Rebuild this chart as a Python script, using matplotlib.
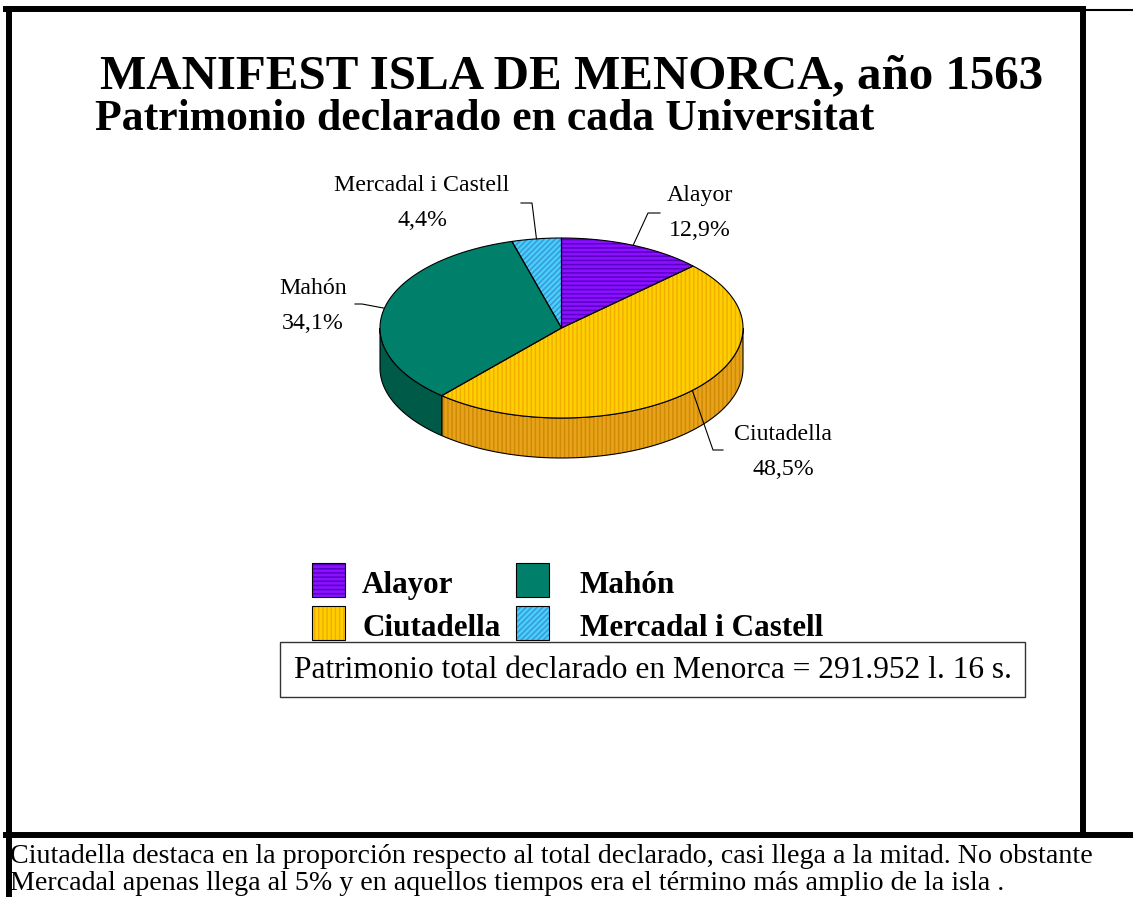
import numpy as np
import matplotlib.pyplot as plt
from matplotlib.patches import Polygon, Rectangle

plt.rcParams['font.family'] = ['Liberation Serif', 'DejaVu Serif']
plt.rcParams['hatch.linewidth'] = 1.1

# datos
titulo = 'MANIFEST ISLA DE MENORCA, año 1563'
subtitulo = 'Patrimonio declarado en cada Universitat'
universitats = ['Alayor', 'Ciutadella', 'Mahón', 'Mercadal i Castell']
porcentajes = [12.9, 48.5, 34.1, 4.4]
etiquetas_pct = ['12,9%', '48,5%', '34,1%', '4,4%']
total_texto = 'Patrimonio total declarado en Menorca = 291.952 l. 16 s.'
comentario = [
    'Ciutadella destaca en la proporción respecto al total declarado, casi llega a la mitad. No obstante',
    'Mercadal apenas llega al 5% y en aquellos tiempos era el término más amplio de la isla .',
]

# estilo de cada porción
colores_cara = ['#8A10FF', '#FFD000', '#00806A', '#48D0FA']
colores_trama = ['#5A00C4', '#F2AE00', '#007A62', '#3A98D8']
colores_lado = ['#6A00C0', '#E8A418', '#005A48', '#2A98C0']
tramas_lado = ['----', '||||', None, '//////']
tramas = ['----', '||||', None, '//////']

# geometria del pastel (en pixeles de la imagen)
cx, cy, rx, ry, grosor = 561.5, 328, 181.5, 90, 40

fig = plt.figure(figsize=(11.33, 8.97), dpi=100)
ax = fig.add_axes([0, 0, 1, 1])
ax.set_xlim(0, 1133)
ax.set_ylim(897, 0)
ax.axis('off')


def elipse(t, dy=0):
    t = np.radians(t)
    return np.column_stack([cx + rx * np.cos(t), cy - ry * np.sin(t) + dy])


def relleno(pts, cara, trama, color_trama, z):
    ax.add_patch(Polygon(pts, closed=True, facecolor=cara, edgecolor='none', zorder=z))
    if trama:
        ax.add_patch(Polygon(pts, closed=True, facecolor='none', edgecolor=color_trama,
                             hatch=trama, linewidth=0, zorder=z + 0.1))
    ax.add_patch(Polygon(pts, closed=True, facecolor='none', edgecolor='black',
                         linewidth=0.8, zorder=z + 0.2))


# angulos: empieza a las 12 y gira en sentido horario
fracs = np.array(porcentajes) / sum(porcentajes)
bordes = 90 - 360 * np.concatenate([[0], np.cumsum(fracs)])

# laterales (solo la mitad delantera se ve)
for i in range(len(universitats)):
    t1, t2 = bordes[i], bordes[i + 1]
    for k in (0, -360):
        a = max(t2, -180 + k)
        b = min(t1, 0 + k)
        if a < b:
            ts = np.linspace(b, a, 80)
            arriba = elipse(ts)
            abajo = elipse(ts[::-1], grosor)
            relleno(np.vstack([arriba, abajo]), colores_lado[i], tramas_lado[i],
                    colores_trama[i] if i != 1 else '#D08A08', 2)

# caras superiores
for i in range(len(universitats)):
    ts = np.linspace(bordes[i], bordes[i + 1], 120)
    pts = np.vstack([[cx, cy], elipse(ts)])
    relleno(pts, colores_cara[i], tramas[i], colores_trama[i], 4)

# etiquetas con lineas guia
codo = [(648, 213, 660), (713, 450, 723), (362, 304, 355), (532, 203, 521)]
pos_txt = [(700, 201, 236), (783, 440, 475), (313, 294, 329), (422, 191, 226)]
for i in range(len(universitats)):
    medio = (bordes[i] + bordes[i + 1]) / 2
    p = elipse([medio])[0]
    ex, ey, hx = codo[i]
    ax.plot([p[0], ex, hx], [p[1], ey, ey], color='black', lw=0.8, zorder=6)
    tx, ty1, ty2 = pos_txt[i]
    ax.text(tx, ty1, universitats[i], ha='center', va='baseline', fontsize=17.2)
    ax.text(tx, ty2, etiquetas_pct[i], ha='center', va='baseline', fontsize=17.2)

# titulos
ax.text(100, 88, titulo, ha='left', va='baseline', fontsize=35.3, fontweight='bold')
ax.text(95, 130, subtitulo, ha='left', va='baseline', fontsize=31.5, fontweight='bold')

# leyenda (2 columnas)
orden = [0, 2, 1, 3]
cols_x = [312, 516]
cols_txt = [362, 580]
filas_y = [563, 606]
for n, i in enumerate(orden):
    x0 = cols_x[n % 2]
    y0 = filas_y[n // 2]
    relleno([(x0, y0), (x0 + 33, y0), (x0 + 33, y0 + 34), (x0, y0 + 34)],
            colores_cara[i], tramas[i], colores_trama[i], 4)
    ax.text(cols_txt[n % 2], y0 + 30, universitats[i], ha='left', va='baseline',
            fontsize=22.4, fontweight='bold')

# caja del total
ax.add_patch(Rectangle((280, 642), 745, 55, facecolor='white', edgecolor='#333333',
                       linewidth=1, zorder=3))
ax.text(652.5, 670, total_texto, ha='center', va='center', fontsize=22.6, zorder=5)

# marco
k = dict(color='black', solid_capstyle='projecting', zorder=8)
ax.plot([9, 9], [9.5, 897], lw=4.3, **k)
ax.plot([6, 1083], [9.5, 9.5], lw=4.3, **k)
ax.plot([1083, 1083], [9.5, 835], lw=4.3, **k)
ax.plot([6, 1133], [835, 835], lw=4.3, **k)
ax.plot([1083, 1133], [10, 10], lw=1.5, color='black', zorder=8)

# comentario inferior
ax.text(10, 863, comentario[0], ha='left', va='baseline', fontsize=20.2)
ax.text(10, 890, comentario[1], ha='left', va='baseline', fontsize=20.2)

fig.savefig('out.png', dpi=100)
